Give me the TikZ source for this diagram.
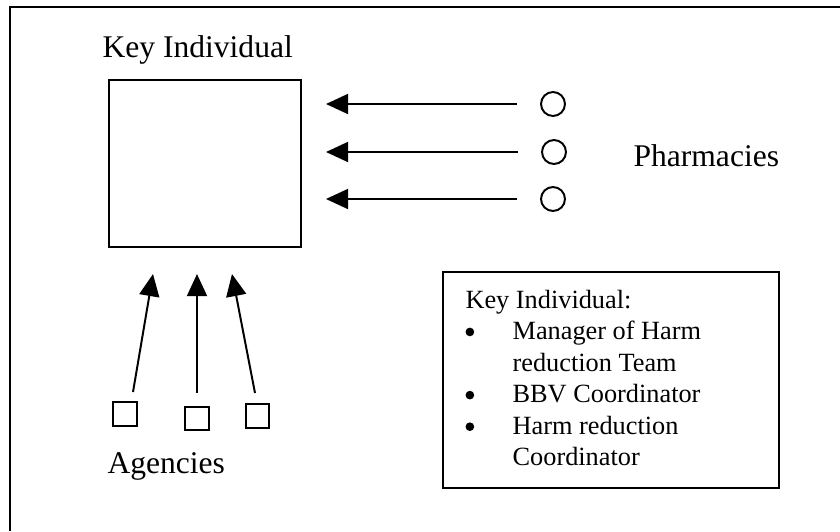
\documentclass[tikz,border=0pt]{standalone}
\usepackage{fontspec}
\setmainfont{Liberation Serif}
\usetikzlibrary{arrows.meta}

\newcommand{\bul}{\tikz[baseline=-2.9pt]\fill (1.65pt,0pt) circle (1.65pt);}% маркер списка

\tikzset{
  pharm/.style={circle,draw,line width=0.75pt,minimum size=9.1pt,inner sep=0pt},
  agency/.style={rectangle,draw,line width=0.75pt,minimum size=9.1pt,inner sep=0pt},
  label/.style={inner sep=0pt,anchor=base west,font=\fontsize{12}{14.4}\selectfont},
  arr/.style={line width=0.75pt,-{Triangle[length=8.4pt,width=7.6pt]}}
}

\begin{document}
\begin{tikzpicture}[x=0.38pt,y=-0.38pt]

\useasboundingbox (0,0) rectangle (840,531);
\draw[line width=0.75pt] (10,531) -- (10,7) -- (840,7);% рамка

\node[rectangle,draw,line width=0.75pt,minimum width=73pt,minimum height=63.5pt] (key) at (205,163.5) {};
\node[label] (keylabel) at (102,57) {Key Individual};

\node[pharm] (ph1) at (553,104) {};
\node[pharm] (ph2) at (554,152) {};% аптеки
\node[pharm] (ph3) at (553,199) {};
\node[label] (pharmlabel) at (633,166) {Pharmacies};

\node[agency] (ag1) at (125,414) {};
\node[agency] (ag2) at (197,418.5) {};% агентства
\node[agency] (ag3) at (257.5,416) {};
\node[label] (aglabel) at (107,473) {Agencies};

\draw[arr,shorten <=8.7pt,shorten >=9.1pt] (ph1) -- (key.east |- ph1);
\draw[arr,shorten <=8.7pt,shorten >=9.1pt] (ph2) -- (key.east |- ph2);
\draw[arr,shorten <=8.7pt,shorten >=9.1pt] (ph3) -- (key.east |- ph3);

\coordinate (t1) at ([shift={(8,-9)}]ag1.north);
\coordinate (t2) at ([shift={(0,-13)}]ag2.north);% хвосты стрелок
\coordinate (t3) at ([shift={(-2.5,-10)}]ag3.north);
\coordinate (h1) at ([shift={(-52,26)}]key.south);
\coordinate (h2) at ([shift={(-8,26)}]key.south);% концы стрелок
\coordinate (h3) at ([shift={(27,26)}]key.south);

\draw[arr] (t1) -- (h1);
\draw[arr] (t2) -- (h2);
\draw[arr] (t3) -- (h3);

\node[rectangle,draw,line width=0.75pt,minimum width=127.7pt,minimum height=82.1pt] (legend) at (611,380) {};
\node[inner sep=0pt,anchor=base west,font=\fontsize{10}{12}\selectfont] (legendtext) at (465,308)
  {\begin{tabular}[t]{@{}p{17.9pt}@{}l@{}}
   \multicolumn{2}{@{}l@{}}{Key Individual:}\\
   \bul & Manager of Harm\\
        & reduction Team\\
   \bul & BBV Coordinator\\
   \bul & Harm reduction\\
        & Coordinator
   \end{tabular}};

\end{tikzpicture}
\end{document}
